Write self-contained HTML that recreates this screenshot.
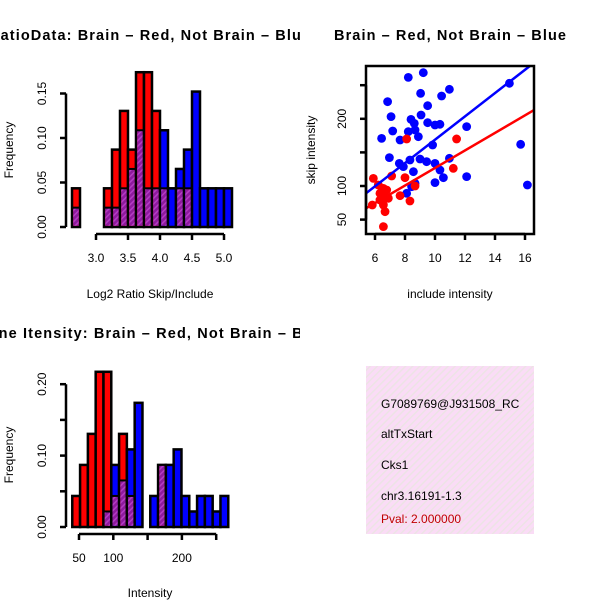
<!DOCTYPE html>
<html><head><meta charset="utf-8"><style>
html,body{margin:0;padding:0;background:#fff;}
svg{display:block;font-family:"Liberation Sans",sans-serif;}
</style></head><body>
<svg id="c" width="600" height="600" xmlns="http://www.w3.org/2000/svg">
<defs>
<pattern id="purp" width="4" height="4" patternUnits="userSpaceOnUse" patternTransform="rotate(45)">
<rect width="4" height="4" fill="#8e1a9e"/><rect width="1.5" height="4" fill="#b43cc4"/></pattern>
<pattern id="pink" width="5" height="5" patternUnits="userSpaceOnUse" patternTransform="rotate(45)">
<rect width="5" height="5" fill="#fadcf6"/><rect width="1.4" height="5" fill="#ece4e4"/></pattern>
<clipPath id="leftclip"><rect x="0" y="0" width="300" height="600"/></clipPath>
<clipPath id="boxclip"><rect x="366" y="366" width="168" height="168"/></clipPath>
</defs>
<g id="g1"></g><g id="g2"></g><g id="g3"></g>
<g>
<rect x="366" y="366" width="168" height="168" fill="url(#pink)"/>
<g clip-path="url(#boxclip)" font-size="12">
<text x="381" y="408">G7089769@J931508_RC</text>
<text x="381" y="438">altTxStart</text>
<text x="381" y="469">Cks1</text>
<text x="381" y="500">chr3.16191-1.3</text>
<text x="381" y="523" fill="#c00000">Pval: 2.000000</text>
</g></g>
</svg>
<script>
// ---- Histogram 1 (log2 ratio) ----
const h1Start = 2.625, h1Bin = 0.125;
const h1Red = [1,0,0,0,1,2,3,2,4,4,3,1,0,1,1,0,0,0,0,0];
const h1Blue = [1,0,0,0,1,1,2,3,5,2,2,5,2,3,4,7,2,2,2,2];
const h1XTicks = [3.0,3.5,4.0,4.5,5.0];
const h1XLabels = ["3.0","3.5","4.0","4.5","5.0"];
const h1YTicks = [0,0.05,0.10,0.15];
const h1YLabels = ["0.00","0.05","0.10","0.15"];
// ---- Histogram 2 (intensity) ----
const h2Start = 40.2, h2Bin = 11.37;
const h2Red = [1,2,3,5,5,1,3,1,0,0,0,2,0,0,0,0,0,0,0,0];
const h2Blue = [0,0,0,0,1,4,3,5,8,0,2,4,4,5,2,1,2,2,1,2];
const h2XTicks = [50,100,150,200,250];
const h2XLabels = ["50","100","","200",""];
const h2YTicks = [0,0.05,0.10,0.15,0.20];
const h2YLabels = ["0.00","","0.10","","0.20"];
// ---- Scatter ----
const blueX = [8.22,9.22,9.04,10.44,10.96,14.96,6.84,9.51,7.07,9.07,8.4,8.62,9.51,10,10.33,12.11,7.18,8.22,8.67,8.89,6.44,7.67,9.84,15.71,6.96,7.62,8.33,9,9.44,10,10.96,7.89,8.56,10.33,10.56,12.11,10,8.44,8.11,16.16,8.67];
const blueY = [261.7,268.6,237.9,233.9,243.9,252.8,225.5,219.5,203.2,205.7,199.2,193.2,194.2,190.8,191.8,188.3,181.8,180.9,183.3,173.4,170.9,168.5,161,162,142.2,133.7,138.7,140.2,136.2,133.7,141.2,128.8,121.3,123.8,112.4,113.9,105,99,89.1,101.5,104];
const redX = [5.89,7.11,8,8.67,11.44,11.22,8.11,6.56,6.78,6.33,6.67,7.67,8.33,5.82,6.56,6.67,6.56,6.33,6.89,6.44,6.22];
const redY = [111.4,114.9,112.4,100,170,126.3,170,96.5,94,89.1,84.1,85.6,77.7,71.7,71.7,61.8,39.5,79.2,81.7,91.5,101.5];
const blueFit = [-4.5,17.34];
const redFit = [-3.7,13.05];
const scXTicks = [6,8,10,12,14,16];
const scXLabels = ["6","8","10","12","14","16"];
const scYTicks = [50,100,150,200,250];
const scYLabels = ["50","100","","200",""];

const NS="http://www.w3.org/2000/svg";
function mk(parent,tag,attrs,txt){const e=document.createElementNS(NS,tag);for(const k in attrs)e.setAttribute(k,attrs[k]);if(txt!==undefined)e.textContent=txt;parent.appendChild(e);return e;}

function hist(g,o){
  const sx=v=>o.x0+(v-o.vx0)*o.kx, sy=v=>o.y0-v*o.ky;
  const n=o.red.length;
  for(let i=0;i<n;i++){
    const r=o.red[i]/23,b=o.blue[i]/46;
    if(r===0&&b===0)continue;
    const xl=sx(o.start+i*o.bin),xr=sx(o.start+(i+1)*o.bin);
    const mx=Math.max(r,b),mn=Math.min(r,b);
    const top=mk(g,'rect',{x:xl,y:sy(mx),width:xr-xl,height:sy(0)-sy(mx),fill:r>=b?'#ff0000':'#0000ff',stroke:'#000','stroke-width':2.5});
    
    
    if(mn>0){
      const p=mk(g,'rect',{x:xl+1.2,y:sy(mn),width:xr-xl-2.4,height:sy(0)-sy(mn)-1.2,fill:'url(#purp)'});
      
      
      const l=mk(g,'line',{x1:xl,x2:xr,y1:sy(mn),y2:sy(mn),stroke:'#000','stroke-width':2});
      
      
    }
  }
  axes(g,o,sx,sy);
}
function axes(g,o,sx,sy){
  const xa=mk(g,'g',{});
  
  
  mk(xa,'line',{x1:sx(o.xt[0]),x2:sx(o.xt[o.xt.length-1]),y1:o.xaxY,y2:o.xaxY,stroke:'#000','stroke-width':2.5});
  o.xt.forEach((v,i)=>{mk(xa,'line',{x1:sx(v),x2:sx(v),y1:o.xaxY,y2:o.xaxY+6,stroke:'#000','stroke-width':2.5});
    if(o.xl[i]){const t=mk(xa,'text',{x:sx(v),y:o.xaxY+28,'text-anchor':'middle','font-size':12},o.xl[i]);
    
    }});
  const ya=mk(g,'g',{});
  
  
  mk(ya,'line',{x1:o.yaxX,x2:o.yaxX,y1:sy(o.yt[0]),y2:sy(o.yt[o.yt.length-1]),stroke:'#000','stroke-width':2.5});
  o.yt.forEach((v,i)=>{mk(ya,'line',{x1:o.yaxX,x2:o.yaxX-6,y1:sy(v),y2:sy(v),stroke:'#000','stroke-width':2.5});
    if(o.yl[i]){const t=mk(ya,'text',{x:o.yaxX-20,y:sy(v),'text-anchor':'middle','font-size':12,transform:`rotate(-90 ${o.yaxX-20} ${sy(v)})`},o.yl[i]);
    
    }});
}
function title(g,x,y,txt,anchor,clip,len){
  const t=mk(g,'text',{x:x,y:y,'font-size':14.5,'font-weight':'bold','text-anchor':anchor,textLength:len,lengthAdjust:'spacing'},txt);
  if(clip)t.setAttribute('clip-path','url(#leftclip)');
  
  
}
function label(g,x,y,txt,rot,name){
  const t=mk(g,'text',{x:x,y:y,'font-size':12,'text-anchor':'middle'},txt);
  if(rot)t.setAttribute('transform',`rotate(-90 ${x} ${y})`);
  
  
}

// panel 1
const g1=document.getElementById('g1');


hist(g1,{x0:96,vx0:3.0,kx:64,y0:227,ky:890,start:h1Start,bin:h1Bin,red:h1Red,blue:h1Blue,xt:h1XTicks,xl:h1XLabels,yt:h1YTicks,yl:h1YLabels,xaxY:234,yaxX:66});
title(g1,-11,40,"RatioData: Brain \u2013 Red, Not Brain \u2013 Blue",'start',true,321);
label(g1,150,298,"Log2 Ratio Skip/Include",false,'x-axis-title');
label(g1,13,150,"Frequency",true,'y-axis-title');

// panel 3
const g3=document.getElementById('g3');


hist(g3,{x0:79,vx0:50,kx:0.686,y0:527,ky:714,start:h2Start,bin:h2Bin,red:h2Red,blue:h2Blue,xt:h2XTicks,xl:h2XLabels,yt:h2YTicks,yl:h2YLabels,xaxY:534,yaxX:66});
title(g3,-23,338,"Gene Itensity: Brain \u2013 Red, Not Brain \u2013 Blue",'start',true,350);
label(g3,150,597,"Intensity",false,'x-axis-title');
label(g3,13,455,"Frequency",true,'y-axis-title');

// panel 2 scatter
const g2=document.getElementById('g2');


const sx=v=>375+(v-6)*15, sy=v=>186-(v-100)*0.672;
const cl=mk(g2,'clipPath',{id:'scclip'});mk(cl,'rect',{x:366,y:66,width:168,height:168});
const pts=mk(g2,'g',{'clip-path':'url(#scclip)'});
blueX.forEach((x,i)=>{const c=mk(pts,'circle',{cx:sx(x),cy:sy(blueY[i]),r:4.4,fill:'#0000ff'});
  
  });
redX.forEach((x,i)=>{const c=mk(pts,'circle',{cx:sx(x),cy:sy(redY[i]),r:4.4,fill:'#ff0000'});
  
  });
[[blueFit,'#0000ff','fit-line-blue'],[redFit,'#ff0000','fit-line-red']].forEach(([f,col,nm])=>{
  const l=mk(pts,'line',{x1:sx(5.4),y1:sy(f[0]+f[1]*5.4),x2:sx(16.6),y2:sy(f[0]+f[1]*16.6),stroke:col,'stroke-width':2.5});
  
  });
const box=mk(g2,'rect',{x:366,y:66,width:168,height:168,fill:'none',stroke:'#000','stroke-width':2.5});


axes(g2,{xt:scXTicks,xl:scXLabels,yt:scYTicks,yl:scYLabels,xaxY:234,yaxX:366},sx,sy);
title(g2,450,40,"Brain \u2013 Red, Not Brain \u2013 Blue",'middle',false,232);
label(g2,450,298,"include intensity",false,'x-axis-title');
label(g2,315,150,"skip intensity",true,'y-axis-title');
</script>
</body></html>
